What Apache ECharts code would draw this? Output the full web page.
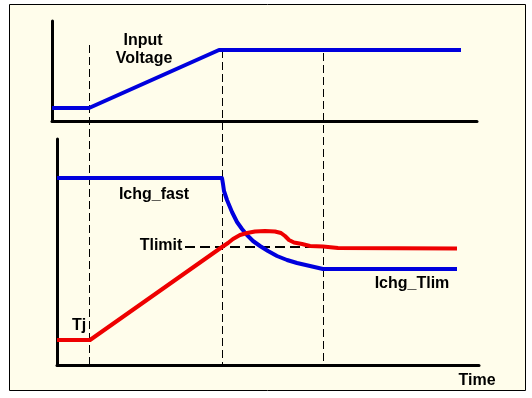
<!DOCTYPE html>
<html>
<head>
<meta charset="utf-8">
<script src="https://cdn.jsdelivr.net/npm/echarts@6/dist/echarts.min.js"></script>
<style>
  html, body { margin: 0; padding: 0; background: #fff; }
  #chart { width: 532px; height: 398px; }
</style>
</head>
<body>
<div id="chart"></div>
<script>
// time axis shared by both panels (arbitrary units)
const vinTime = [0, 37, 167, 409];
const vinLevel = [13, 13, 71, 71];

const ichgTime = [5, 170, 171, 172, 175, 180, 185, 190, 195, 201, 208, 216, 225, 235, 245, 258, 271, 405];
const ichgLevel = [187, 187, 181, 174, 165, 153, 143, 136, 130, 124, 119, 114, 109, 105, 102, 99, 96, 96];

const tjTime = [5, 38, 170, 176, 181, 188, 195, 203, 213, 223, 229, 233, 237, 242, 250, 258, 271, 286, 405];
const tjLevel = [25, 25, 118, 122, 126, 130, 132, 133.5, 134, 133.5, 132, 129, 125, 122.5, 121, 119, 118.5, 117, 116.5];

const tlimitTime = [133, 271];
const tlimitLevel = 118;

// vertical guides (overlay panel units)
const guideTime = [37, 170, 271];
const guideTop = [320, 315, 312];

const BLUE = '#0000dd';
const RED = '#ee0000';
const FONT = 'Liberation Sans, Arial, sans-serif';

const chart = echarts.init(document.getElementById('chart'));

const axisLine = {
  show: true,
  lineStyle: { color: '#000', width: 3 }
};

function txt(text, x, y) {
  return {
    type: 'text',
    x: x,
    y: y,
    z: 10,
    style: {
      text: text,
      fill: '#000',
      font: 'bold 16px ' + FONT,
      align: 'center',
      verticalAlign: 'middle'
    }
  };
}

const guideSeries = guideTime.map((t, i) => ({
  type: 'line',
  xAxisIndex: 2,
  yAxisIndex: 2,
  data: [[t, guideTop[i]], [t, 0]],
  symbol: 'none',
  silent: true,
  clip: false,
  z: 1,
  lineStyle: { color: '#000', width: 1, type: [8, 4] }
}));

chart.setOption({
  animation: false,
  backgroundColor: '#fff',
  grid: [
    { left: 52, width: 425, top: 21, height: 100 },
    { left: 57, width: 422, top: 139, height: 226 },
    { left: 52.5, width: 425, top: 45, height: 320 }
  ],
  xAxis: [
    { gridIndex: 0, type: 'value', min: 0, max: 425, axisLine: axisLine,
      axisTick: { show: false }, axisLabel: { show: false }, splitLine: { show: false } },
    { gridIndex: 1, type: 'value', min: 5, max: 427, axisLine: axisLine,
      axisTick: { show: false }, axisLabel: { show: false }, splitLine: { show: false } },
    { gridIndex: 2, type: 'value', min: 0, max: 425, show: false }
  ],
  yAxis: [
    { gridIndex: 0, type: 'value', min: 0, max: 100, axisLine: axisLine,
      axisTick: { show: false }, axisLabel: { show: false }, splitLine: { show: false } },
    { gridIndex: 1, type: 'value', min: 0, max: 226, axisLine: axisLine,
      axisTick: { show: false }, axisLabel: { show: false }, splitLine: { show: false } },
    { gridIndex: 2, type: 'value', min: 0, max: 320, show: false }
  ],
  graphic: [
    {
      type: 'rect',
      z: -10,
      shape: { x: 9.5, y: 4.5, width: 516, height: 386 },
      style: { fill: '#fffdeb', stroke: '#000', lineWidth: 1 }
    },
    txt('Input', 143, 41),
    txt('Voltage', 144, 59),
    txt('Ichg_fast', 154, 195),
    txt('Tlimit', 161, 246),
    txt('Ichg_Tlim', 412, 284),
    txt('Tj', 79, 326),
    txt('Time', 477, 381)
  ],
  series: guideSeries.concat([
    {
      name: 'Input Voltage',
      type: 'line',
      xAxisIndex: 0,
      yAxisIndex: 0,
      data: vinTime.map((t, i) => [t, vinLevel[i]]),
      symbol: 'none',
      clip: false,
      lineStyle: { color: BLUE, width: 4 }
    },
    {
      name: 'Tlimit',
      type: 'line',
      xAxisIndex: 1,
      yAxisIndex: 1,
      data: tlimitTime.map(t => [t, tlimitLevel]),
      symbol: 'none',
      clip: false,
      z: 1,
      lineStyle: { color: '#000', width: 2, type: [10, 5] }
    },
    {
      name: 'Ichg',
      type: 'line',
      xAxisIndex: 1,
      yAxisIndex: 1,
      data: ichgTime.map((t, i) => [t, ichgLevel[i]]),
      symbol: 'none',
      clip: false,
      lineStyle: { color: BLUE, width: 4, join: 'round' }
    },
    {
      name: 'Tj',
      type: 'line',
      xAxisIndex: 1,
      yAxisIndex: 1,
      data: tjTime.map((t, i) => [t, tjLevel[i]]),
      symbol: 'none',
      clip: false,
      lineStyle: { color: RED, width: 4, join: 'round' }
    }
  ])
});
</script>
</body>
</html>
